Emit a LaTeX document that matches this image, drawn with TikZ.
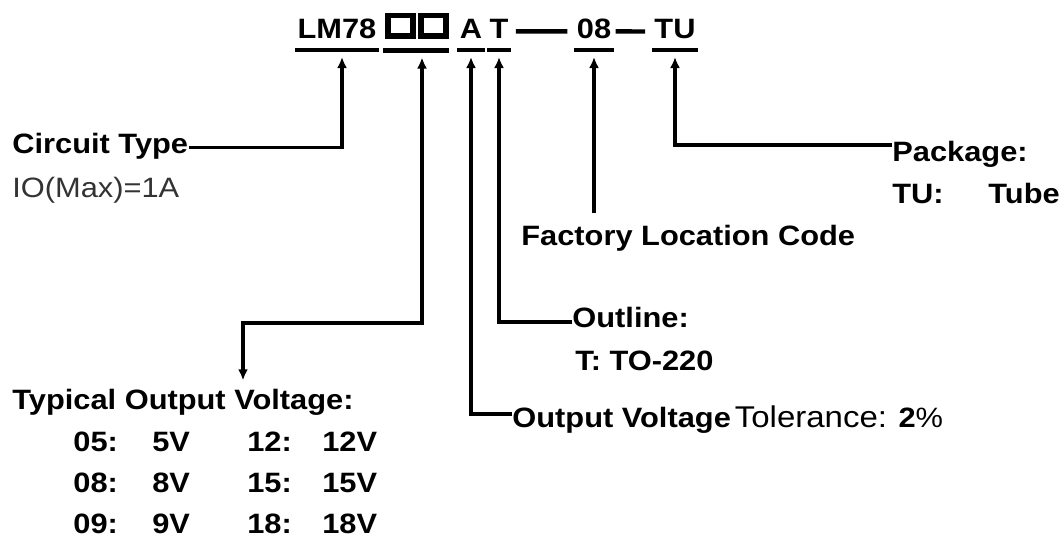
\documentclass[tikz,border=0pt]{standalone}
\usepackage{fontspec}
\setmainfont{Liberation Sans}[FakeStretch=1.1]
\usetikzlibrary{arrows.meta}

\tikzset{
	>={Latex[length=5.5pt,width=5pt]},
	txt/.style={font=\fontsize{14}{16}\selectfont\bfseries, inner sep=0pt, anchor=base west},
	code/.style={txt, anchor=base},
	box/.style={draw, line width=2.8pt, minimum width=12.7pt, minimum height=10.2pt, inner sep=0pt},
	uline/.style={line width=2.2pt},
	lead/.style={line width=1.6pt, ->},
}

\begin{document}
\begin{tikzpicture}[x=0.5pt, y=-0.5pt]
\useasboundingbox (0,0) rectangle (1064,538);

% PART NUMBER
\node[code](lm) at(337,38) {LM78};
\node[box](sq1) at(400.5,25.5) {};
\node[box](sq2) at(433.5,25.5) {};
\node[code](a) at(471,38) {A};
\node[code](t) at(499,38) {T};
\node[code](n08) at(594,38) {08};
\node[code](tu) at(675,38) {TU};

\foreach \n in{lm,a,t,n08,tu}{
	\draw[uline] ([xshift=-1pt,yshift=-6pt]\n.base west) -- ([xshift=1pt,yshift=-6pt]\n.base east);
}
\draw[uline] ([xshift=-1pt,yshift=-6pt]sq1.south west) -- ([yshift=-6pt]sq2.south east);

\draw[uline] ([xshift=3.5pt,yshift=-1.5pt]t.east) -- ([xshift=-4.5pt,yshift=-1.5pt]n08.west);
\draw[uline] ([xshift=2pt,yshift=-1.5pt]n08.east) -- ([xshift=-4.5pt,yshift=-1.5pt]tu.west);

% TIPS
\coordinate(tiplm) at([xshift=2.5pt,yshift=-9.5pt]lm.base);
\coordinate(tipsq) at([xshift=2pt,yshift=-9.5pt]sq2.south west);
\foreach \n in{a,t,n08,tu}{
	\coordinate(tip\n) at([yshift=-9.5pt]\n.base);
}

% LABELS
\node[txt](ctype) at(12,153) {Circuit Type};
\node[txt, font=\fontsize{14}{16}\selectfont, text=black!80](imax) at(12,197) {IO(Max)=1A};

\node[txt](typv) at(12,409) {Typical Output Voltage:};
\foreach \ca/\va/\cb/\vb [count=\r] in{05/5V/12/12V, 08/8V/15/15V, 09/9V/18/18V}{
	\node[txt](volt\r) at(73,410+41*\r) {\makebox[39.5pt][l]{\ca:}\makebox[47.5pt][l]{\va}\makebox[37.5pt][l]{\cb:}\vb};
}

\node[txt](tol) at(512,427) {Output Voltage\hspace{2pt}{\mdseries\fontsize{15}{16}\selectfont Tolerance:} \bfseries 2\mdseries\%};
\node[txt](outl) at(572,327) {Outline:};
\node[txt](to220) at(575,370) {T: TO-220};
\node[txt](factory) at(521,245) {Factory Location Code};
\node[txt](pkg) at(892,161) {Package:};
\node[txt](tube) at(892,203) {\makebox[48pt][l]{TU:}Tube};

% LEADS
\draw[lead] ([yshift=-1pt]ctype.east) -| (tiplm);

\coordinate(sqbend) at(243,323);
\coordinate(tiptyp) at(sqbend |- typv.north);
\draw[lead, <->] ([yshift=4pt]tiptyp) -- (sqbend) -| (tipsq);

\draw[lead] ([yshift=6.5pt]tol.base west) -| (tipa);
\draw[lead] ([yshift=2.5pt]outl.base west) -| (tipt);

\coordinate(fend) at(tipn08 |- factory.north);
\draw[lead] ([yshift=5.5pt]fend) -- (tipn08);

\draw[lead] ([yshift=8pt]pkg.base west) -| (tiptu);

\end{tikzpicture}
\end{document}
